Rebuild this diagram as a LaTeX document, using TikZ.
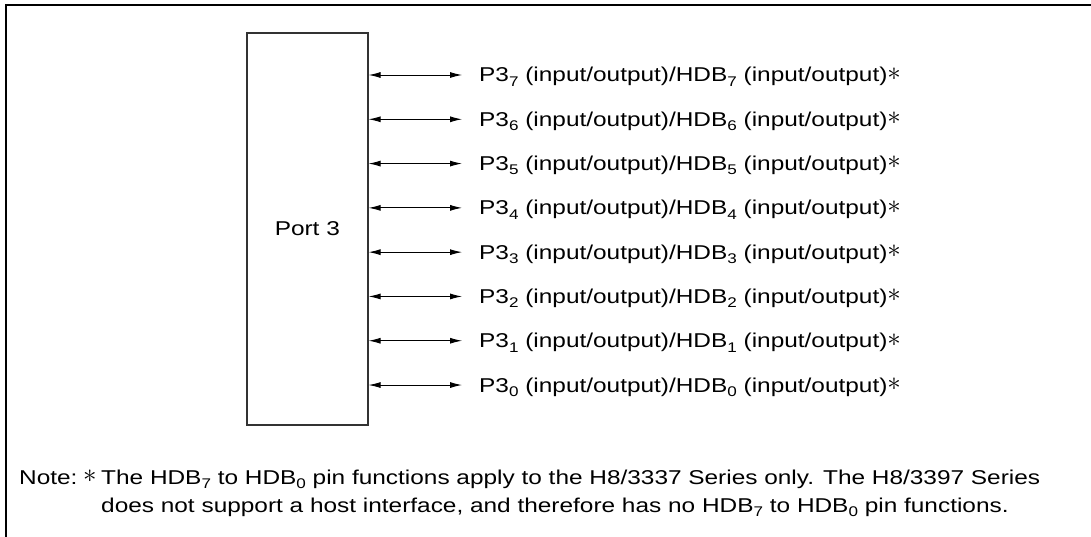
\documentclass[tikz,border=0pt]{standalone}
\usepackage{fontspec}
\setmainfont{Liberation Sans}[FakeStretch=1.22]
\usetikzlibrary{arrows.meta}
\newcommand\sbs[1]{\raisebox{-0.22em}{\fontsize{14}{14}\selectfont #1}}
\newcommand\astx{\raisebox{0.08em}{\scalebox{1.3}{$\ast$}}}
\begin{document}
\begin{tikzpicture}[x=1pt,y=-1pt,
  frame/.style={line width=2pt},
  portbox/.style={draw=black!80, line width=1.6pt, inner sep=0pt},
  bidir/.style={{Latex[length=12pt,width=6pt]}-{Latex[length=12pt,width=6pt]}, line width=0.9pt},
  lbl/.style={anchor=base west, inner sep=0pt, font=\fontsize{20}{24}\selectfont}]
\useasboundingbox (0,0) rectangle (1091,537);
\draw[frame] (6,537) -- (6,5) -- (1091,5);
\node[portbox, minimum width=121pt, minimum height=392pt, anchor=north west,
      font=\fontsize{20}{24}\selectfont] (port) at (246,32) {Port 3};
\foreach \k in {0,...,7}{
  \pgfmathsetmacro{\yy}{75+(7-\k)*44.29}
  \coordinate (e\k) at (462,\yy);
  \draw[bidir] (port.east |- e\k) -- (e\k);
  \node[lbl] (l\k) at (479,\yy+7) {P3\sbs{\k} (input/output)/HDB\sbs{\k} (input/output)\astx};
}
\node[lbl] (note) at (19,484) {Note:};
\node[lbl] (star) at (83,484) {\astx};
\node[lbl] (n1) at (101,484) {The HDB\sbs{7} to HDB\sbs{0} pin functions apply to the H8/3337 Series only. The H8/3397 Series};
\node[lbl] (n2) at (101,512) {does not support a host interface, and therefore has no HDB\sbs{7} to HDB\sbs{0} pin functions.};
\end{tikzpicture}
\end{document}
